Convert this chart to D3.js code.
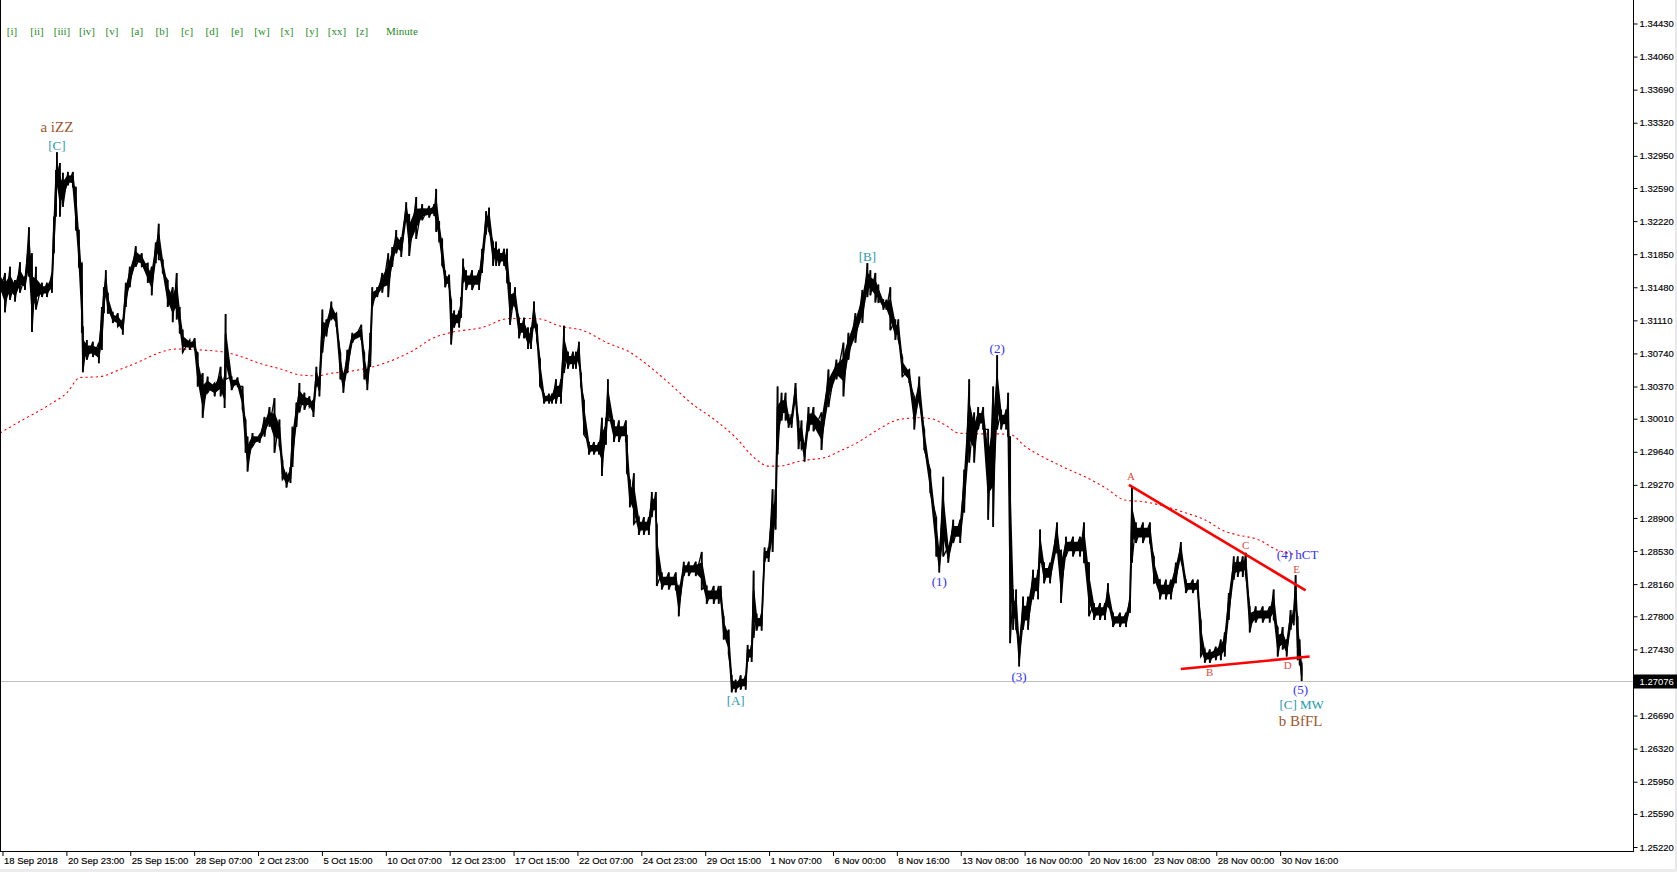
<!DOCTYPE html>
<html><head><meta charset="utf-8">
<script src="https://cdn.jsdelivr.net/npm/d3@7/dist/d3.min.js"></script>
<style>html,body{margin:0;padding:0;background:#fff;overflow:hidden}</style>
</head><body>
<svg id="chart" width="1677" height="872"></svg>
<script>
// ---------- DATA (GBPUSD H1, bar index, high, low) ----------
const barsSep = [
[0,1.3167,1.3142],[5,1.3164,1.3120],[10,1.3171,1.3134],[15,1.3156,1.3132],[20,1.3176,1.3142],[25,1.3160,1.3145],
[29,1.3215,1.3160],[32,1.3186,1.3098],[36,1.3171,1.3123],[42,1.3153,1.3137],[47,1.3153,1.3137],[52,1.3164,1.3142],
[54,1.3227,1.3186],[56,1.3279,1.3227],[57,1.3299,1.3260],[60,1.3287,1.3227],[63,1.3276,1.3238],[68,1.3277,1.3262],
[73,1.3277,1.3260],[76,1.3260,1.3212],[79,1.3212,1.3171],[82,1.3175,1.3097],[83,1.3104,1.3053],[87,1.3089,1.3067],
[93,1.3087,1.3070],[99,1.3086,1.3063],[102,1.3126,1.3078],[104,1.3148,1.3119],[106,1.3167,1.3137],[108,1.3142,1.3119],
[113,1.3120,1.3108],[118,1.3119,1.3104],[123,1.3112,1.3095],[126,1.3153,1.3126],[130,1.3171,1.3148],[136,1.3194,1.3171],
[142,1.3186,1.3171],[148,1.3175,1.3153],[152,1.3171,1.3139],[156,1.3198,1.3175],[159,1.3219,1.3179],[163,1.3179,1.3164],
[168,1.3156,1.3126],[173,1.3148,1.3109],[177,1.3164,1.3112],[180,1.3126,1.3097],[183,1.3100,1.3075],[190,1.3089,1.3078],
[195,1.3091,1.3078],[198,1.3075,1.3037],[203,1.3052,1.3002],[208,1.3048,1.3030],[215,1.3041,1.3026],[221,1.3059,1.3026],
[225,1.3048,1.3013],[226,1.3118,1.3045]
];
const barsOct = [
[232,1.3048,1.3033],[238,1.3047,1.3037],[243,1.3037,1.3011],[246,1.3000,1.2963],[248,1.2981,1.2942],[253,1.2985,1.2970],
[260,1.2983,1.2974],[265,1.3003,1.2981],[270,1.3014,1.2992],[275,1.3024,1.2963],[280,1.3000,1.2970],[283,1.2955,1.2933],
[287,1.2940,1.2924],[291,1.2947,1.2929],[293,1.2992,1.2947],[297,1.3019,1.2992],[300,1.3041,1.3008],[305,1.3030,1.3011],
[310,1.3026,1.3014],[314,1.3022,1.3003],[317,1.3059,1.3037],[320,1.3048,1.3026],[323,1.3123,1.3075],[327,1.3112,1.3093],
[332,1.3132,1.3112],[337,1.3119,1.3104],[341,1.3075,1.3045],[344,1.3052,1.3030],[348,1.3078,1.3052],[353,1.3097,1.3086],
[362,1.3106,1.3089],[365,1.3075,1.3045],[368,1.3056,1.3033],[371,1.3097,1.3059],[373,1.3148,1.3126],[378,1.3148,1.3137],
[383,1.3164,1.3142],[389,1.3186,1.3137],[393,1.3193,1.3171],[397,1.3212,1.3186],[402,1.3204,1.3182],[407,1.3243,1.3223],
[410,1.3230,1.3183],[417,1.3249,1.3202],[423,1.3241,1.3223],[430,1.3239,1.3226],[435,1.3241,1.3228],[437,1.3258,1.3210],
[440,1.3222,1.3199],[443,1.3202,1.3172],[446,1.3166,1.3148],[450,1.3162,1.3148],[452,1.3134,1.3084],[455,1.3122,1.3103],
[460,1.3122,1.3103],[462,1.3137,1.3114],[464,1.3180,1.3153],[467,1.3167,1.3145],[473,1.3167,1.3145],[480,1.3167,1.3145],
[483,1.3191,1.3164],[487,1.3233,1.3207],[490,1.3237,1.3210],[494,1.3199,1.3172],[497,1.3199,1.3172],[500,1.3191,1.3172],
[505,1.3191,1.3172],[508,1.3191,1.3153],[511,1.3153,1.3106],[516,1.3148,1.3126],[520,1.3114,1.3091],[525,1.3114,1.3091],
[529,1.3103,1.3079],[532,1.3103,1.3079],[535,1.3132,1.3103],[538,1.3106,1.3087],[541,1.3068,1.3037],[545,1.3029,1.3018],
[550,1.3029,1.3018],[553,1.3029,1.3018],[557,1.3045,1.3018],[562,1.3045,1.3018],[565,1.3105,1.3052],[569,1.3076,1.3057],
[574,1.3076,1.3057],[577,1.3076,1.3057],[580,1.3087,1.3063],[582,1.3052,1.3037],[585,1.3022,1.2983],[590,1.2975,1.2961],
[595,1.2975,1.2961],[600,1.2975,1.2961],[603,1.3002,1.2937],[607,1.3002,1.2972],[609,1.3045,1.2999],[615,1.2999,1.2975],
[620,1.2999,1.2975],[627,1.2999,1.2975],[628,1.2983,1.2940],[631,1.2933,1.2902],[635,1.2940,1.2883],[640,1.2891,1.2871],
[645,1.2891,1.2871],[650,1.2891,1.2871],[653,1.2919,1.2891],[657,1.2919,1.2891],[658,1.2883,1.2814],[663,1.2829,1.2810],
[670,1.2829,1.2810],[677,1.2829,1.2810],[680,1.2814,1.2780],[685,1.2841,1.2825],[690,1.2841,1.2825],[697,1.2841,1.2825],
[703,1.2852,1.2810],[708,1.2814,1.2794],[715,1.2814,1.2794],[720,1.2814,1.2794],[722,1.2814,1.2799],[725,1.2780,1.2754],
[730,1.2765,1.2737],[733,1.2714,1.2695],[737,1.2709,1.2695],[742,1.2714,1.2698],[747,1.2714,1.2698],[749,1.2748,1.2729],
[753,1.2748,1.2729],[755,1.2831,1.2756],[758,1.2783,1.2764],[763,1.2783,1.2764]
];
const barsNov = [
[766,1.2857,1.2841],[770,1.2857,1.2841],[774,1.2922,1.2852],[777,1.2922,1.2877],[779,1.3037,1.2961],[783,1.3030,1.2999],
[787,1.3030,1.2999],[790,1.3006,1.2991],[793,1.3006,1.2991],[797,1.3041,1.3022],[800,1.2999,1.2967],[803,1.2999,1.2967],
[806,1.2972,1.2953],[810,1.3014,1.2987],[815,1.3014,1.2987],[823,1.3008,1.2966],[830,1.3056,1.3014],[838,1.3067,1.3045],
[845,1.3086,1.3026],[850,1.3097,1.3067],[857,1.3119,1.3086],[864,1.3145,1.3108],[869,1.3175,1.3137],[872,1.3167,1.3139],
[877,1.3164,1.3131],[880,1.3151,1.3131],[885,1.3134,1.3123],[888,1.3134,1.3123],[892,1.3148,1.3100],[897,1.3112,1.3089],
[900,1.3112,1.3089],[904,1.3070,1.3048],[911,1.3056,1.3041],[916,1.3026,1.2989],[921,1.3048,1.3019],[926,1.2989,1.2966],
[932,1.2944,1.2918],[938,1.2891,1.2847],[941,1.2854,1.2829],[945,1.2936,1.2847],[950,1.2858,1.2840],[955,1.2888,1.2862],
[962,1.2888,1.2862],[966,1.2944,1.2896],[971,1.3045,1.2952],[976,1.3008,1.2952],[980,1.3014,1.2989],[985,1.3014,1.2989],
[990,1.2989,1.2888],[995,1.3037,1.2880],[999,1.3072,1.2989],[1003,1.3011,1.2989],[1008,1.3011,1.2989],[1010,1.3030,1.2981],
[1012,1.2981,1.2750],[1015,1.2810,1.2765],[1018,1.2810,1.2765],[1021,1.2754,1.2724],[1025,1.2802,1.2765],[1030,1.2802,1.2765],
[1035,1.2832,1.2799],[1040,1.2832,1.2799],[1042,1.2877,1.2840],[1046,1.2840,1.2817],[1052,1.2840,1.2817],[1059,1.2885,1.2851],
[1063,1.2854,1.2795],[1068,1.2869,1.2847],[1075,1.2869,1.2847],[1082,1.2869,1.2847],[1086,1.2885,1.2840],[1091,1.2840,1.2780],
[1096,1.2795,1.2776],[1102,1.2795,1.2776],[1107,1.2795,1.2776],[1110,1.2817,1.2791],[1115,1.2784,1.2768],[1122,1.2784,1.2768],
[1128,1.2784,1.2768],[1132,1.2802,1.2784],[1134,1.2925,1.2840],[1138,1.2885,1.2862],[1145,1.2885,1.2862],[1152,1.2885,1.2862],
[1156,1.2847,1.2817],[1162,1.2821,1.2799],[1168,1.2821,1.2799],[1173,1.2821,1.2799],[1178,1.2840,1.2817],[1183,1.2863,1.2843],
[1188,1.2821,1.2806],[1195,1.2821,1.2806],[1200,1.2821,1.2806],[1203,1.2776,1.2735],[1207,1.2743,1.2728],[1212,1.2743,1.2728],
[1218,1.2746,1.2731],[1223,1.2754,1.2731],[1227,1.2762,1.2735],[1231,1.2806,1.2776],[1236,1.2847,1.2821],[1240,1.2847,1.2824],
[1245,1.2847,1.2824],[1248,1.2851,1.2826],[1252,1.2791,1.2762],[1258,1.2791,1.2773],[1265,1.2791,1.2773],[1272,1.2791,1.2773],
[1276,1.2810,1.2776],[1280,1.2768,1.2735],[1285,1.2768,1.2743],[1289,1.2754,1.2735],[1293,1.2787,1.2765],[1296,1.2787,1.2770],
[1298,1.2826,1.2791],[1300,1.2780,1.2731],[1302,1.2754,1.2726],[1304,1.2728,1.27076]
];
// moving average (red dotted)
const maIdx = [0,20,50,67,80,100,120,140,160,177,200,227,243,260,283,300,317,333,350,370,390,410,418,430,450,483,510,537,563,583,610,630,650,670,693,717,737,757,770,780,803,828,840,860,880,900,920,933,947,960,980,1000,1013,1027,1047,1067,1087,1107,1127,1147,1167,1187,1207,1227,1240,1260,1280,1298];
const maValues = [1.2985,1.2998,1.3017,1.3030,1.3047,1.3048,1.3056,1.3065,1.3075,1.3079,1.3078,1.3075,1.3070,1.3063,1.3056,1.3050,1.3049,1.3052,1.3054,1.3058,1.3065,1.3075,1.3080,1.3089,1.3097,1.3103,1.3113,1.3113,1.3104,1.3100,1.3085,1.3076,1.3060,1.3041,1.3018,1.2999,1.2980,1.2956,1.2948,1.2948,1.2954,1.2958,1.2964,1.2975,1.2989,1.3000,1.3002,1.3001,1.2994,1.2985,1.2984,1.2984,1.2983,1.2970,1.2957,1.2946,1.2936,1.2924,1.2910,1.2908,1.2903,1.2896,1.2888,1.2875,1.2871,1.2866,1.2854,1.2849];
const currentPrice = 1.27076;
// triangle trend lines [idx, price]
const triangleUpper = [[1131,1.2927],[1308,1.2809]];
const triangleLower = [[1183,1.2721],[1312,1.2735]];
// wave labels
const waveText  = ["a iZZ","[C]","[B]","[A]","(1)","(2)","(3)","(4) hCT","(5)","[C] MW","b BfFL","A","B","C","D","E"];
const waveIdx   = [57,57,869,737,941,999,1021,1300,1303,1304,1303,1133,1212,1248,1290,1299];
const wavePrice = [1.3327,1.3306,1.3182,1.2686,1.2819,1.3079,1.2712,1.2849,1.2698,1.2681,1.2663,1.2936,1.2717,1.2859,1.2725,1.2833];
const waveDegree= ["cycle","primary","primary","primary","inter","inter","inter","inter","inter","primary","cycle","minor","minor","minor","minor","minor"];
// toolbar
const toolbarItems = ["[i]","[ii]","[iii]","[iv]","[v]","[a]","[b]","[c]","[d]","[e]","[w]","[x]","[y]","[xx]","[z]"];
const toolbarLast = "Minute";
// axes
const xTickIdx = [2,66,130,194,258,322,386,450,514,578,642,706,770,834,898,962,1026,1090,1154,1218,1282];
const xTickLabels = ["18 Sep 2018","20 Sep 23:00","25 Sep 15:00","28 Sep 07:00","2 Oct 23:00","5 Oct 15:00","10 Oct 07:00","12 Oct 23:00","17 Oct 15:00","22 Oct 07:00","24 Oct 23:00","29 Oct 15:00","1 Nov 07:00","6 Nov 00:00","8 Nov 16:00","13 Nov 08:00","16 Nov 00:00","20 Nov 16:00","23 Nov 08:00","28 Nov 00:00","30 Nov 16:00"];
const yTickValues = [1.34430,1.34060,1.33690,1.33320,1.32950,1.32590,1.32220,1.31850,1.31480,1.31110,1.30740,1.30370,1.30010,1.29640,1.29270,1.28900,1.28530,1.28160,1.27800,1.27430,1.26690,1.26320,1.25950,1.25590,1.25220];

// ---------- DRAW ----------
const W = 1677, H = 872, plotR = 1633, plotB = 851;
const svg = d3.select('#chart');
const x = d3.scaleLinear().domain([0, 1640]).range([0, 1637]);
const y = d3.scaleLinear().domain([1.25220, 1.34430]).range([847, 23.5]);
const axisFont = '"Liberation Sans", Arial, sans-serif';
const serif = '"Liberation Serif", "Times New Roman", serif';

svg.append('rect').attr('width', W).attr('height', H).attr('fill', '#fff');
svg.append('rect').attr('x', 0).attr('y', 869).attr('width', W).attr('height', 3).attr('fill', '#ececec');
svg.append('rect').attr('x', 1675).attr('y', 0).attr('width', 2).attr('height', 869).attr('fill', '#e8e8e8');

// current price line
const cy = Math.round(y(currentPrice)) + 0.5;
svg.append('line').attr('x1', 0).attr('x2', plotR).attr('y1', cy).attr('y2', cy)
  .attr('stroke', '#c0c0c0').attr('stroke-width', 1).attr('shape-rendering', 'crispEdges');

// moving average
svg.append('path')
  .attr('d', d3.line().x((d, i) => x(maIdx[i])).y(d => y(d)).curve(d3.curveMonotoneX)(maValues))
  .attr('fill', 'none').attr('stroke', '#ff0000').attr('stroke-width', 1.1).attr('stroke-dasharray', '2.2,3');

// price bars: thin solid core + jagged high/low sawtooth
const bars = [...barsSep, ...barsOct, ...barsNov];
svg.append('path')
  .attr('d', d3.area().x(d => x(d[0]))
    .y0(d => y(d[2]) - 0.3 * (y(d[2]) - y(d[1])))
    .y1(d => y(d[1]) + 0.3 * (y(d[2]) - y(d[1])))(bars))
  .attr('fill', '#000').attr('stroke', '#000').attr('stroke-width', 1.6).attr('stroke-linejoin', 'round');
const pts = [];
bars.forEach(b => { pts.push([x(b[0]), y(b[1])]); pts.push([x(b[0]), y(b[2])]); });
svg.append('path').attr('d', d3.line()(pts)).attr('fill', 'none')
  .attr('stroke', '#000').attr('stroke-width', 1.3);
svg.append('g').selectAll('line').data(bars).join('line')
  .attr('x1', d => x(d[0])).attr('x2', d => x(d[0]))
  .attr('y1', d => y(d[1])).attr('y2', d => y(d[2]))
  .attr('stroke', '#000').attr('stroke-width', 1.8);

// triangle lines
[triangleUpper, triangleLower].forEach(seg => {
  svg.append('line')
    .attr('x1', x(seg[0][0])).attr('y1', y(seg[0][1]))
    .attr('x2', x(seg[1][0])).attr('y2', y(seg[1][1]))
    .attr('stroke', '#ff0000').attr('stroke-width', 2.6);
});

// wave labels
const degreeStyle = {
  cycle:   {fill: '#a0562a', size: 15},
  primary: {fill: '#1f9aad', size: 13},
  inter:   {fill: '#3030ff', size: 13},
  minor:   {fill: '#e04a3a', size: 11}
};
svg.append('g').selectAll('text').data(waveText).join('text')
  .attr('x', (d, i) => x(waveIdx[i])).attr('y', (d, i) => y(wavePrice[i]))
  .attr('dy', '0.33em').attr('text-anchor', 'middle')
  .attr('font-family', serif)
  .attr('font-size', (d, i) => degreeStyle[waveDegree[i]].size)
  .attr('fill', (d, i) => degreeStyle[waveDegree[i]].fill)
  .text(d => d);

// toolbar
const tb = svg.append('g').attr('font-family', serif).attr('font-size', 11).attr('fill', '#1e8c1e');
tb.selectAll('text.t').data(toolbarItems).join('text').attr('class', 't')
  .attr('x', (d, i) => 12 + 25 * i).attr('y', 31.5).attr('dy', '0.3em').attr('text-anchor', 'middle').text(d => d);
tb.append('text').attr('x', 12 + 25 * toolbarItems.length - 1).attr('y', 31.5).attr('dy', '0.3em').text(toolbarLast);

// axes
const xAxis = d3.axisBottom(x).tickValues(xTickIdx).tickFormat((d, i) => xTickLabels[i]).tickSize(5).tickSizeOuter(0);
const gx = svg.append('g').attr('transform', `translate(0.5,${plotB})`).call(xAxis);
gx.select('.domain').remove();
gx.selectAll('text').attr('text-anchor', 'start').attr('x', 1).attr('y', 6).attr('dy', '0.71em')
  .attr('font-family', axisFont).attr('font-size', 9.5).attr('fill', '#000')
  .attr('stroke', '#000').attr('stroke-width', 0.15);
gx.selectAll('line').attr('stroke', '#000');

const yAxis = d3.axisRight(y).tickValues(yTickValues).tickFormat(d3.format('.5f')).tickSize(4).tickSizeOuter(0);
const gy = svg.append('g').attr('transform', `translate(${plotR + 0.5},0)`).call(yAxis);
gy.select('.domain').remove();
gy.selectAll('text').attr('x', 6).attr('font-family', axisFont).attr('font-size', 9.5).attr('fill', '#000')
  .attr('stroke', '#000').attr('stroke-width', 0.15);
gy.selectAll('line').attr('stroke', '#000');

// frame lines
svg.append('line').attr('x1', 0).attr('x2', plotR + 1).attr('y1', plotB + 0.5).attr('y2', plotB + 0.5).attr('stroke', '#000');
svg.append('line').attr('x1', plotR + 0.5).attr('x2', plotR + 0.5).attr('y1', 0).attr('y2', plotB + 1).attr('stroke', '#000');
svg.append('line').attr('x1', 0.5).attr('x2', 0.5).attr('y1', 0).attr('y2', plotB).attr('stroke', '#000');

// current price tag
svg.append('rect').attr('x', plotR + 1).attr('y', cy - 7).attr('width', W - plotR - 1).attr('height', 14).attr('fill', '#000');
svg.append('text').attr('x', plotR + 6.5).attr('y', cy).attr('dy', '0.32em')
  .attr('font-family', axisFont).attr('font-size', 9.5).attr('fill', '#fff').text(d3.format('.5f')(currentPrice));
</script>
</body></html>
